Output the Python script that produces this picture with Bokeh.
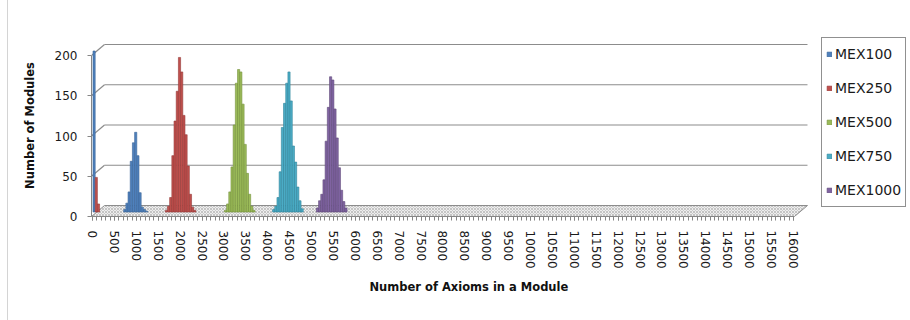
from bokeh.plotting import figure
from bokeh.models import Range1d, FixedTicker, Legend, LegendItem, Title
from bokeh.embed import file_html
from bokeh.resources import INLINE

# Module-size histograms: number of modules per bin of 50 axioms
mex100_axioms = [0, 700, 750, 800, 850, 900, 950, 1000, 1050, 1100, 1150, 1200]
mex100_modules = [200, 3, 11, 25, 63, 86, 99, 70, 24, 6, 3, 1]

mex250_axioms = [50, 100, 1650, 1700, 1750, 1800, 1850, 1900, 1950, 2000, 2050,
                 2100, 2150, 2200, 2250, 2300]
mex250_modules = [43, 10, 2, 7, 18, 70, 113, 150, 192, 174, 120, 96, 57, 22, 6, 2]

mex500_axioms = [3000, 3050, 3100, 3150, 3200, 3250, 3300, 3350, 3400, 3450, 3500,
                 3550, 3600, 3650]
mex500_modules = [2, 10, 25, 56, 108, 160, 177, 174, 134, 84, 48, 22, 7, 2]

mex750_axioms = [4100, 4150, 4200, 4250, 4300, 4350, 4400, 4450, 4500, 4550, 4600,
                 4650, 4700, 4750]
mex750_modules = [3, 7, 18, 50, 105, 135, 160, 174, 138, 82, 62, 31, 14, 4]

mex1000_axioms = [5100, 5150, 5200, 5250, 5300, 5350, 5400, 5450, 5500, 5550, 5600,
                  5650, 5700, 5750]
mex1000_modules = [5, 14, 22, 40, 88, 130, 168, 164, 128, 92, 55, 27, 13, 5]

series_names = ["MEX100", "MEX250", "MEX500", "MEX750", "MEX1000"]
fill_colors = ["#4F81BD", "#C0504D", "#9BBB59", "#4BACC6", "#8064A2"]
edge_colors = ["#3A6497", "#953B39", "#76923C", "#31849B", "#5F4A7B"]

y_ticks = [0, 50, 100, 150, 200]
x_label_ticks = list(range(0, 16001, 500))
x_minor_ticks = list(range(0, 16001, 100))

BIN = 50
X_FIRST, X_LAST = -25, 16025          # outer edges of the category axis
FRAME_W, FRAME_H = 817, 182
PX_PER_AXIOM = 2.19 / BIN
PX_PER_MODULE = 0.805

# oblique 3-D look: depth of the floor / back wall, and where the bars sit
DEPTH_X = 13 / PX_PER_AXIOM
DEPTH_Y = 11 / PX_PER_MODULE
BAR_X = 1.5 / PX_PER_AXIOM
BAR_Y = 4.5 / PX_PER_MODULE

p = figure(width=902, height=320, output_backend="svg", toolbar_location=None,
           x_range=Range1d(X_FIRST, X_FIRST + FRAME_W / PX_PER_AXIOM),
           y_range=Range1d(0, FRAME_H / PX_PER_MODULE),
           min_border_left=83, min_border_right=2,
           min_border_top=34, min_border_bottom=104)
p.styles = {"margin-left": "7px", "border-left": "1px solid #d4d4d4"}
p.outline_line_color = None
p.background_fill_color = "white"
p.border_fill_color = "white"
p.xgrid.visible = False
p.ygrid.visible = False

# floor
p.patch([X_FIRST, X_LAST, X_LAST + DEPTH_X, X_FIRST + DEPTH_X],
        [0, 0, DEPTH_Y, DEPTH_Y],
        fill_color="#eeeeee", hatch_pattern="x", hatch_color="#a8a8a8",
        hatch_scale=3, hatch_weight=0.6, line_color="#8c8c8c", line_width=1)

# back-wall gridlines with their side-wall diagonals
gx0, gy0, gx1, gy1 = [], [], [], []
for v in y_ticks[1:]:
    gx0 += [X_FIRST, X_FIRST + DEPTH_X]
    gy0 += [v, v + DEPTH_Y]
    gx1 += [X_FIRST + DEPTH_X, X_LAST + DEPTH_X]
    gy1 += [v + DEPTH_Y, v + DEPTH_Y]
p.segment(gx0, gy0, gx1, gy1, line_color="#8c8c8c", line_width=1.2)

all_x = [mex100_axioms, mex250_axioms, mex500_axioms, mex750_axioms, mex1000_axioms]
all_y = [mex100_modules, mex250_modules, mex500_modules, mex750_modules, mex1000_modules]

items = []
for name, xs, ys, fc, ec in zip(series_names, all_x, all_y, fill_colors, edge_colors):
    r = p.vbar(x=[x + BAR_X for x in xs], width=BIN,
               bottom=BAR_Y, top=[y + BAR_Y for y in ys],
               fill_color=fc, line_color=ec, line_width=0.6)
    items.append(LegendItem(label=name, renderers=[r]))

legend = Legend(items=items, location=(730, 9), orientation="vertical",
                label_text_font="DejaVu Sans", label_text_font_size="14px",
                label_text_color="#1a1a1a", glyph_width=6, glyph_height=6,
                label_standoff=3, label_height=24, spacing=10, padding=4,
                margin=0, border_line_color="#222222", border_line_width=1,
                background_fill_color="white", background_fill_alpha=1)
p.add_layout(legend, "center")

# y axis (front plane)
ya = p.yaxis[0]
ya.ticker = FixedTicker(ticks=y_ticks)
ya.bounds = (0, 200)
ya.axis_line_color = "#868686"
ya.major_tick_line_color = "#868686"
ya.major_tick_out = 4
ya.major_tick_in = 0
ya.minor_tick_line_color = None
ya.major_label_standoff = 10
ya.major_label_text_font = "DejaVu Sans"
ya.major_label_text_font_size = "12px"
ya.major_label_text_color = "#1a1a1a"
ya.axis_label = "Number of Modules"
ya.axis_label_text_font = "DejaVu Sans"
ya.axis_label_text_font_size = "11.5px"
ya.axis_label_text_font_style = "bold"
ya.axis_label_text_color = "#111111"
ya.axis_label_standoff = 15

# x axis (category bins)
xa = p.xaxis[0]
xa.ticker = FixedTicker(ticks=x_label_ticks, minor_ticks=x_minor_ticks)
xa.bounds = (X_FIRST, X_LAST)
xa.axis_line_color = "#868686"
xa.major_tick_line_color = "#868686"
xa.minor_tick_line_color = "#868686"
xa.major_tick_out = 4
xa.major_tick_in = 0
xa.minor_tick_out = 4
xa.minor_tick_in = 0
xa.major_label_orientation = "vertical"
xa.major_label_standoff = 10
xa.major_label_text_font = "DejaVu Sans"
xa.major_label_text_font_size = "12px"
xa.major_label_text_color = "#1a1a1a"

x_title = Title(text="Number of Axioms in a Module", align="left", offset=278,
                standoff=13, text_font="DejaVu Sans", text_font_size="11.5px",
                text_font_style="bold", text_color="#111111")
p.add_layout(x_title, "below")

open("out.html", "w").write(file_html(p, INLINE))
